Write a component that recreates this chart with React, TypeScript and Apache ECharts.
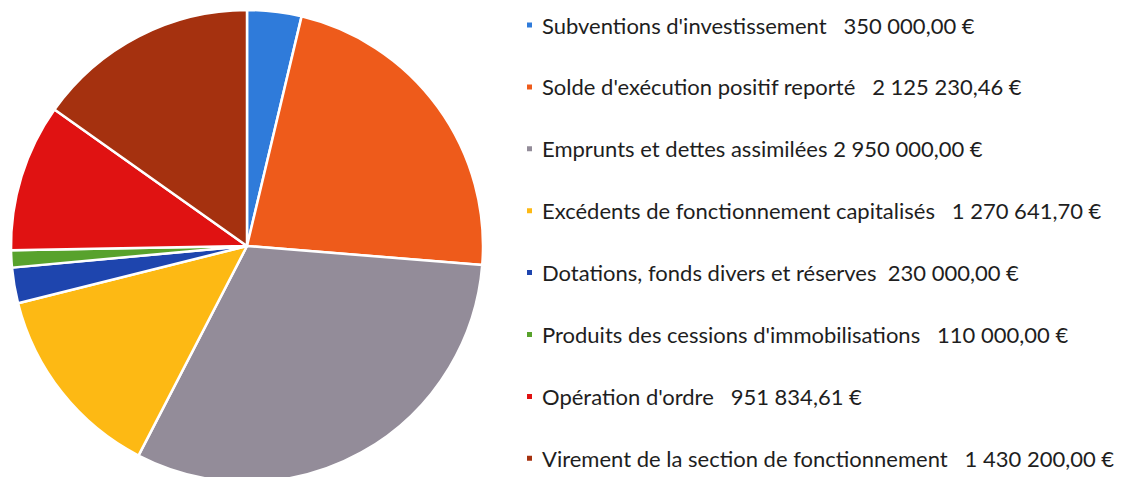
import React, { useEffect, useRef } from "react";
import * as echarts from "echarts";

const categories = [
  "Subventions d'investissement",
  "Solde d'exécution positif reporté",
  "Emprunts et dettes assimilées",
  "Excédents de fonctionnement capitalisés",
  "Dotations, fonds divers et réserves",
  "Produits des cessions d'immobilisations",
  "Opération d'ordre",
  "Virement de la section de fonctionnement",
];
const values = [350000.0, 2125230.46, 2950000.0, 1270641.7, 230000.0, 110000.0, 951834.61, 1430200.0];
const gaps = [3, 3, 1, 3, 2, 3, 3, 3];
const colors = ["#2F7BDA", "#EE5B1B", "#938C99", "#FDB914", "#1E45AE", "#58A22C", "#E01212", "#A5310F"];

function formatEuro(v: number): string {
  const [int, dec] = v.toFixed(2).split(".");
  const grouped = int.replace(/\B(?=(\d{3})+(?!\d))/g, " ");
  return `${grouped},${dec} €`;
}

export default function App() {
  const ref = useRef<HTMLDivElement>(null);
  useEffect(() => {
    if (!ref.current) return;
    const chart = echarts.init(ref.current, undefined, { renderer: "svg" });
    chart.setOption({
      animation: false,
      backgroundColor: "#ffffff",
      color: colors,
      legend: {
        orient: "vertical",
        left: 520,
        top: 8,
        height: 700,
        itemWidth: 7,
        itemHeight: 7,
        itemGap: 37.9,
        icon: "rect",
        data: categories,
        formatter: (name: string) => {
          const i = categories.indexOf(name);
          return name + " ".repeat(gaps[i]) + formatEuro(values[i]);
        },
        textStyle: {
          fontFamily: "Lato",
          fontSize: 22,
          color: "#1e1e1e",
          lineHeight: 24,
          padding: [0, 0, 0, 4],
        },
      },
      series: [
        {
          type: "pie",
          center: [247, 246],
          radius: 236,
          startAngle: 90,
          clockwise: true,
          label: { show: false },
          labelLine: { show: false },
          itemStyle: { borderColor: "#ffffff", borderWidth: 2.5 },
          emphasis: { disabled: true },
          data: categories.map((c, i) => ({ name: c, value: values[i] })),
        },
      ],
    });
    return () => chart.dispose();
  }, []);
  return <div ref={ref} style={{ width: 1121, height: 477, position: "absolute", left: 0, top: 0 }} />;
}
